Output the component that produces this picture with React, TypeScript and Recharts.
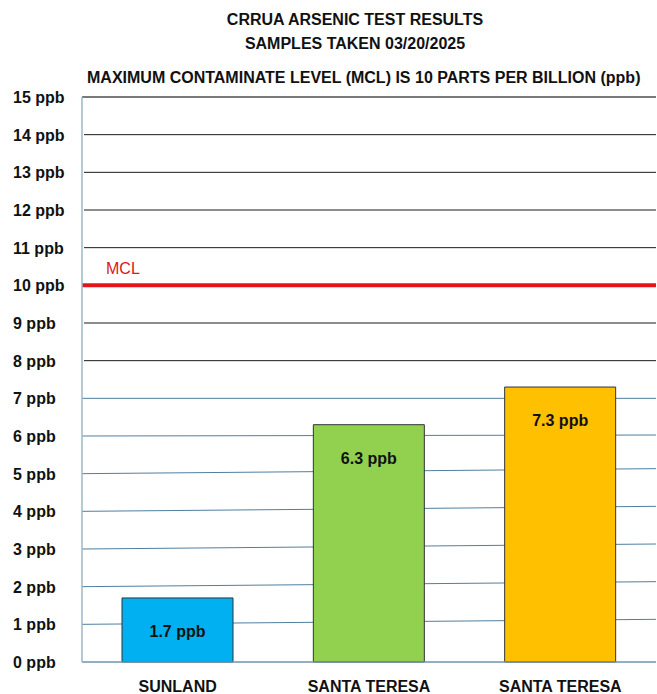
import React from 'react';
import { BarChart, Bar, XAxis, YAxis, CartesianGrid, ReferenceLine, LabelList, Cell } from 'recharts';

const sites = ['SUNLAND', 'SANTA TERESA', 'SANTA TERESA'];
const arsenic = [1.7, 6.3, 7.3];
const barColors = ['#00b0f0', '#92d050', '#ffc000'];
const yTicks = [0, 1, 2, 3, 4, 5, 6, 7, 8, 9, 10, 11, 12, 13, 14, 15];
const yMax = 15;
const mcl = 10;

const data = sites.map((site, i) => ({ site, value: arsenic[i], key: i }));

const font = '"Liberation Sans", Arial, sans-serif';

const gridLine = (props: any) => {
  const { x1, x2, y1, y, height } = props;
  const v = Math.round((yMax * (y + height - y1)) / height);
  if (v === 0 || v === mcl) return <g key={props.key} />;
  let stroke = '#1a1a1a';
  let w = 1;
  let tilt = 0;
  let start = x1 + 2;
  if (v === yMax) {
    stroke = '#7a7a7a';
    w = 2;
    start = x1;
  } else if (v <= 7) {
    stroke = '#4f7f9f';
    tilt = v <= 5 ? 5 : v === 6 ? 1 : 0;
    start = x1;
  }
  return <line key={props.key} x1={start} x2={x2} y1={y1} y2={y1 - tilt} stroke={stroke} strokeWidth={w} />;
};

const YTick = (props: any) => {
  const { y, payload } = props;
  return (
    <text x={13} y={y} dy={6} fontFamily={font} fontSize={16} fontWeight="bold" fill="#111" textAnchor="start">
      {payload.value} ppb
    </text>
  );
};

const XTick = (props: any) => {
  const { x, y, payload } = props;
  return (
    <text x={x} y={y} dy={22} fontFamily={font} fontSize={16} fontWeight="bold" fill="#111" textAnchor="middle">
      {payload.value}
    </text>
  );
};

const ValueLabel = (props: any) => {
  const { x, y, width, value } = props;
  return (
    <text x={x + width / 2} y={y + 33} dy={6} fontFamily={font} fontSize={16} fontWeight="bold" fill="#111" textAnchor="middle">
      {value} ppb
    </text>
  );
};

const McLabel = (props: any) => {
  const { viewBox } = props;
  return (
    <text x={viewBox.x + 24} y={viewBox.y - 16} dy={5} fontFamily={font} fontSize={16} fill="#e0151b">
      MCL
    </text>
  );
};

export default function App() {
  return (
    <div style={{ position: 'absolute', left: 0, top: 0, width: 657, height: 694, background: '#fff', overflow: 'hidden' }}>
      <div style={{ position: 'absolute', left: 355, top: 8, transform: 'translateX(-50%)', whiteSpace: 'nowrap', textAlign: 'center', fontFamily: font, fontWeight: 'bold', fontSize: 16, lineHeight: '24px', color: '#111' }}>
        <div>CRRUA ARSENIC TEST RESULTS</div>
        <div>SAMPLES TAKEN 03/20/2025</div>
      </div>
      <div style={{ position: 'absolute', left: 87, top: 68, whiteSpace: 'nowrap', fontFamily: font, fontWeight: 'bold', fontSize: 16, lineHeight: '20px', color: '#111' }}>
        MAXIMUM CONTAMINATE LEVEL (MCL) IS 10 PARTS PER BILLION (ppb)
      </div>
      <div style={{ position: 'absolute', left: 0, top: 0 }}>
        <BarChart width={657} height={694} data={data} margin={{ top: 97, right: 1, left: 0, bottom: 0 }}>
          <CartesianGrid vertical={false} horizontal={gridLine} />
          <XAxis dataKey="key" tickFormatter={(i: number) => sites[i]} tick={(p: any) => <XTick {...p} payload={{ value: sites[p.payload.value] }} />} height={32} axisLine={{ stroke: '#6f93ad', strokeWidth: 1.5 }} tickLine={false} interval={0} />
          <YAxis domain={[0, yMax]} ticks={yTicks} interval={0} width={82} tick={<YTick />} tickLine={false} axisLine={{ stroke: '#9bb8cc', strokeWidth: 1.5 }} />
          <YAxis yAxisId="r" orientation="right" domain={[0, yMax]} width={0} tick={false} tickLine={false} axisLine={{ stroke: '#7fa3bd', strokeWidth: 1.5 }} />
          <ReferenceLine y={mcl} stroke="#e8141b" strokeWidth={4} label={<McLabel />} />
          <Bar dataKey="value" barSize={111} stroke="#333" strokeWidth={1} isAnimationActive={false}>
            {data.map((d, i) => (
              <Cell key={d.key} fill={barColors[i]} />
            ))}
            <LabelList dataKey="value" content={<ValueLabel />} />
          </Bar>
        </BarChart>
      </div>
    </div>
  );
}
